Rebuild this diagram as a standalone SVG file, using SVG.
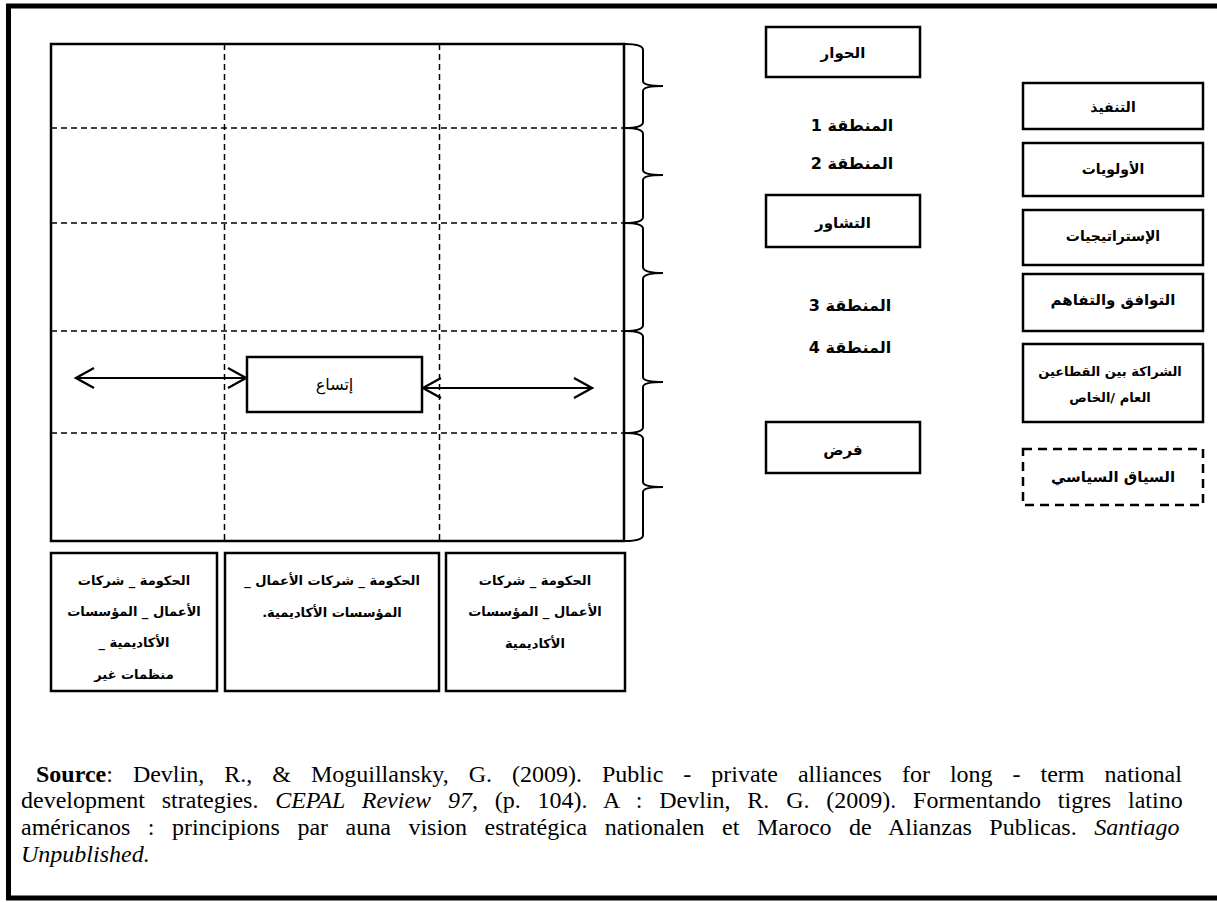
<svg xmlns="http://www.w3.org/2000/svg" width="1217" height="902" viewBox="0 0 1217 902">
<style>
.box{fill:#fff;stroke:#000;stroke-width:2.5}
.dbox{fill:#fff;stroke:#000;stroke-width:2.5;stroke-dasharray:9,6}
.grid{fill:none;stroke:#000;stroke-width:2.5}
.dash{fill:none;stroke:#000;stroke-width:1.5;stroke-dasharray:6,4}
.brace{fill:none;stroke:#000;stroke-width:2}
.conn{fill:none;stroke:#000;stroke-width:2.2}
.ar{font-family:'DejaVu Sans','Noto Sans',sans-serif;font-weight:bold;font-size:14px;text-anchor:middle;dominant-baseline:central;direction:rtl}
.zone{font-family:'DejaVu Sans','Noto Sans',sans-serif;font-weight:bold;font-size:16px;text-anchor:middle;dominant-baseline:central;direction:rtl}
.bt{font-family:'DejaVu Sans','Noto Sans',sans-serif;font-weight:bold;font-size:13px;text-anchor:middle;dominant-baseline:central;direction:rtl}
.src{font-family:'Liberation Serif','Times New Roman',serif;font-size:24px}
</style>
<defs>
<marker id="ah" markerUnits="userSpaceOnUse" markerWidth="22" markerHeight="24" viewBox="0 0 22 24" refX="20" refY="12" orient="auto-start-reverse">
<path d="M2,2 L20,12 L2,22" fill="none" stroke="#000" stroke-width="2.2"/>
</marker>
</defs>
<path d="M1217,6 L8.5,6 L8.5,898 L1217,898" fill="none" stroke="#000" stroke-width="5"/>
<g id="grid">
<rect class="grid" x="51" y="44" width="573" height="497"/>
<line class="dash" x1="51" y1="128" x2="624" y2="128"/>
<line class="dash" x1="51" y1="223" x2="624" y2="223"/>
<line class="dash" x1="51" y1="331" x2="624" y2="331"/>
<line class="dash" x1="51" y1="433" x2="624" y2="433"/>
<line class="dash" x1="224.5" y1="44" x2="224.5" y2="541"/>
<line class="dash" x1="439.5" y1="44" x2="439.5" y2="541"/>
</g>
<g id="braces">
<path class="brace" d="M625,44 Q643,44 643,50 L643,81 Q643,86 663,86 Q643,86 643,91 L643,122 Q643,128 625,128"/>
<path class="brace" d="M625,128 Q643,128 643,134 L643,170 Q643,175 663,175 Q643,175 643,180 L643,217 Q643,223 625,223"/>
<path class="brace" d="M625,223 Q643,223 643,229 L643,267 Q643,273 663,273 Q643,273 643,279 L643,325 Q643,331 625,331"/>
<path class="brace" d="M625,331 Q643,331 643,337 L643,377 Q643,382 663,382 Q643,382 643,387 L643,427 Q643,433 625,433"/>
<path class="brace" d="M625,433 Q643,433 643,439 L643,482 Q643,487 663,487 Q643,487 643,492 L643,535 Q643,541 625,541"/>
</g>
<g id="expansion">
<rect class="box" x="247" y="357" width="175" height="55"/>
<text x="334.5" y="384" class="ar" style="font-weight:normal;font-size:16px">إتساع</text>
</g>
<g id="connectors">
<line class="conn" x1="76" y1="378" x2="246" y2="378" marker-start="url(#ah)" marker-end="url(#ah)"/>
<line class="conn" x1="423" y1="388" x2="592" y2="388" marker-start="url(#ah)" marker-end="url(#ah)"/>
</g>
<g id="dialogue">
<rect class="box" x="766" y="27" width="154" height="50"/>
<text x="843" y="53" class="ar" style="font-size:15px">الحوار</text>
</g>
<g id="zone1"><text x="852" y="125" class="zone">المنطقة 1</text></g>
<g id="zone2"><text x="852" y="163" class="zone">المنطقة 2</text></g>
<g id="consultation">
<rect class="box" x="766" y="195" width="154" height="52"/>
<text x="843" y="223" class="ar" style="font-size:15px">التشاور</text>
</g>
<g id="zone3"><text x="850" y="305" class="zone">المنطقة 3</text></g>
<g id="zone4"><text x="850" y="347" class="zone">المنطقة 4</text></g>
<g id="imposition">
<rect class="box" x="766" y="422" width="154" height="51"/>
<text x="843" y="450" class="ar" style="font-size:15px">فرض</text>
</g>
<g id="implementation">
<rect class="box" x="1023" y="83" width="180" height="46"/>
<text x="1113" y="107" class="ar">التنفيذ</text>
</g>
<g id="priorities">
<rect class="box" x="1023" y="143" width="180" height="53"/>
<text x="1113" y="169" class="ar">الأولويات</text>
</g>
<g id="strategies">
<rect class="box" x="1023" y="210" width="180" height="55"/>
<text x="1113" y="236" class="ar">الإستراتيجيات</text>
</g>
<g id="consensus">
<rect class="box" x="1023" y="274" width="180" height="57"/>
<text x="1113" y="300" class="ar" style="font-size:15px">التوافق والتفاهم</text>
</g>
<g id="partnership">
<rect class="box" x="1023" y="344" width="180" height="78"/>
<text x="1110" y="371" class="ar" style="font-size:13px">الشراكة بين القطاعين</text>
<text x="1110" y="397" class="ar" style="font-size:13px">العام /الخاص</text>
</g>
<g id="political">
<rect class="dbox" x="1023" y="449" width="180" height="56"/>
<text x="1113" y="477" class="ar" style="font-size:15px">السياق السياسي</text>
</g>
<g id="actors1">
<rect class="box" x="51" y="553" width="166" height="138"/>
<text x="134" y="580" class="bt">الحكومة _ شركات</text>
<text x="134" y="611" class="bt">الأعمال _ المؤسسات</text>
<text x="134" y="642" class="bt">الأكاديمية _</text>
<text x="134" y="674" class="bt">منظمات غير</text>
</g>
<g id="actors2">
<rect class="box" x="225" y="553" width="214" height="138"/>
<text x="332" y="580" class="bt">الحكومة _ شركات الأعمال _</text>
<text x="332" y="612" class="bt">المؤسسات الأكاديمية.</text>
</g>
<g id="actors3">
<rect class="box" x="446" y="553" width="179" height="138"/>
<text x="535" y="580" class="bt">الحكومة _ شركات</text>
<text x="535" y="611" class="bt">الأعمال _ المؤسسات</text>
<text x="535" y="643" class="bt">الأكاديمية</text>
</g>
<g id="source">
<text class="src" x="36" y="782" word-spacing="14"><tspan font-weight="bold">Source</tspan>: Devlin, R., &amp; Moguillansky, G. (2009). Public - private alliances for long - term national</text>
<text class="src" x="21" y="808" word-spacing="10.8">development strategies. <tspan font-style="italic">CEPAL Review 97</tspan>, (p. 104). A : Devlin, R. G. (2009). Formentando tigres latino</text>
<text class="src" x="21" y="835" word-spacing="11.5">américanos : principions par auna vision estratégica nationalen et Maroco de Alianzas Publicas.  <tspan font-style="italic">Santiago</tspan></text>
<text class="src" x="21" y="862"><tspan font-style="italic">Unpublished.</tspan></text>
</g>
</svg>
